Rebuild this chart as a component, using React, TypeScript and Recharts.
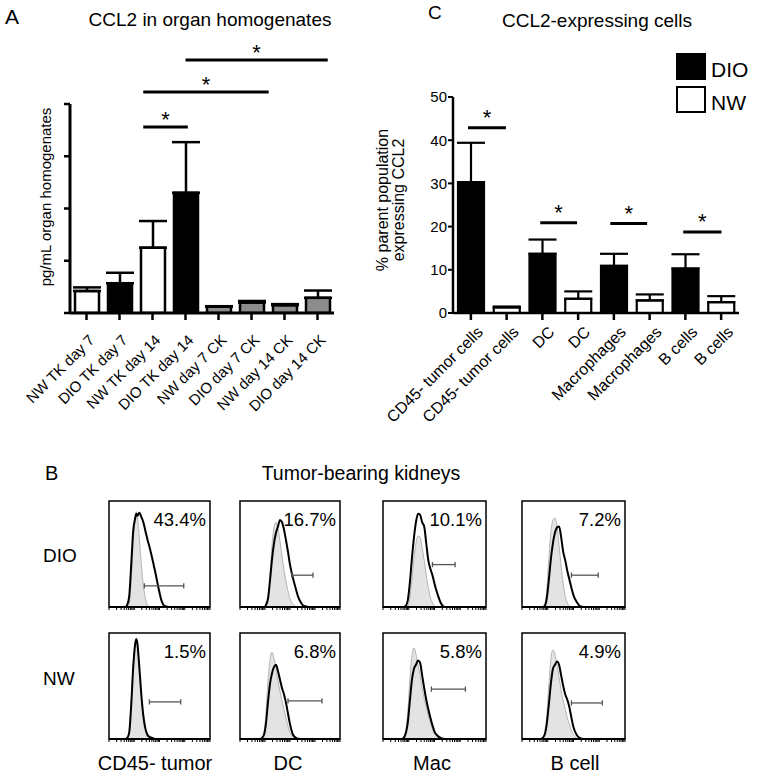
import React from 'react';
import {
  BarChart, Bar, XAxis, YAxis, ErrorBar, Cell, ReferenceLine,
  ComposedChart, Area, ReferenceArea,
} from 'recharts';

const FONT = '"Liberation Sans", Arial, Helvetica, sans-serif';

// ---------- Panel A : CCL2 in organ homogenates ----------
const organLabels = ['NW TK day 7', 'DIO TK day 7', 'NW TK day 14', 'DIO TK day 14', 'NW day 7 CK', 'DIO day 7 CK', 'NW day 14 CK', 'DIO day 14 CK'];
const organMeans = [0.42, 0.57, 1.25, 2.3, 0.12, 0.2, 0.15, 0.29];
const organErrors = [0.07, 0.2, 0.51, 0.97, 0.01, 0.03, 0.02, 0.14];
const organFills = ['#ffffff', '#000000', '#ffffff', '#000000', '#8c8c8c', '#8c8c8c', '#8c8c8c', '#8c8c8c'];
const organTicks = [0, 1, 2, 3, 4];
// significance brackets, in band units (0 = left edge of first category, 8 = right edge of last)
const organSigFrom = [2.22, 2.22, 3.5];
const organSigTo = [3.57, 6.02, 7.81];
const organSigLevel = [3.56, 4.23, 4.84];

// ---------- Panel C : CCL2-expressing cells ----------
const cellLabels = ['CD45- tumor cells', 'CD45- tumor cells', 'DC', 'DC', 'Macrophages', 'Macrophages', 'B cells', 'B cells'];
const cellGroups = ['DIO', 'NW', 'DIO', 'NW', 'DIO', 'NW', 'DIO', 'NW'];
const cellMeans = [30.3, 1.3, 13.7, 3.3, 10.9, 2.9, 10.3, 2.5];
const cellErrors = [9.1, 0.2, 3.3, 1.7, 2.8, 1.4, 3.3, 1.4];
const cellTicks = [0, 10, 20, 30, 40, 50];
const cellSigFrom = [0.42, 2.44, 4.4, 6.44];
const cellSigTo = [1.48, 3.47, 5.43, 7.51];
const cellSigLevel = [42.9, 20.9, 20.7, 18.75];
const groupFill: Record<string, string> = { DIO: '#000000', NW: '#ffffff' };
const legendGroups = ['DIO', 'NW'];

// ---------- Panel B : flow histograms ----------
const histPopulations = ['CD45- tumor', 'DC', 'Mac', 'B cell'];
const histDiets = ['DIO', 'NW'];
const histPercents = [['43.4%', '16.7%', '10.1%', '7.2%'], ['1.5%', '6.8%', '5.8%', '4.9%']];

const gridA = [0, 16, 18, 20, 22, 24, 26, 27, 28, 30, 32, 34, 36, 38, 40, 43, 46, 49, 52, 55, 60, 100];
const gridB = [0, 24, 26, 28, 30, 32, 34, 36, 38, 40, 42, 44, 46, 48, 50, 52, 55, 58, 61, 64, 70, 100];
const gridC = [0, 18, 20, 22, 24, 26, 28, 30, 32, 34, 36, 38, 40, 42, 44, 46, 48, 50, 53, 56, 60, 100];

const isoDioTumor = [0, 0, 0, 3, 25, 60, 85, 90, 86, 65, 40, 20, 8, 2, 0, 0, 0, 0, 0, 0, 0, 0];
const smpDioTumor = [0, 0, 2, 10, 40, 72, 84, 88, 86, 89, 85, 80, 72, 64, 57, 45, 32, 18, 6, 1, 0, 0];
const isoDioDC = [0, 0, 1, 6, 30, 58, 75, 80, 74, 62, 48, 35, 24, 15, 8, 4, 1, 0, 0, 0, 0, 0];
const smpDioDC = [0, 0, 2, 8, 25, 45, 60, 70, 76, 82, 80, 73, 63, 52, 40, 31, 20, 10, 4, 1, 0, 0];
const isoDioMac = [0, 0, 0, 0, 1, 8, 25, 45, 60, 67, 66, 56, 44, 30, 18, 9, 4, 1, 0, 0, 0, 0];
const smpDioMac = [0, 0, 0, 1, 6, 22, 45, 65, 80, 88, 87, 80, 76, 60, 44, 36, 30, 22, 12, 4, 0, 0];
const isoDioB = [0, 0, 0, 2, 15, 45, 70, 82, 84, 76, 58, 38, 22, 10, 4, 1, 0, 0, 0, 0, 0, 0];
const smpDioB = [0, 0, 0, 1, 8, 25, 45, 60, 70, 75, 76, 66, 52, 44, 34, 26, 18, 11, 5, 1, 0, 0];
const isoNwTumor = [0, 0, 1, 8, 35, 70, 92, 95, 90, 65, 38, 18, 8, 3, 1, 0, 0, 0, 0, 0, 0, 0];
const smpNwTumor = [0, 0, 1, 6, 32, 68, 90, 94, 91, 68, 42, 22, 10, 4, 2, 1, 0, 0, 0, 0, 0, 0];
const isoNwDC = [0, 0, 0, 1, 6, 25, 55, 75, 82, 76, 66, 55, 45, 36, 28, 20, 12, 6, 2, 0, 0, 0];
const smpNwDC = [0, 0, 0, 1, 4, 15, 35, 52, 62, 68, 70, 64, 56, 48, 42, 34, 24, 14, 4, 1, 0, 0];
const isoNwMac = [0, 0, 2, 8, 25, 55, 78, 86, 80, 70, 60, 48, 38, 30, 22, 15, 9, 5, 2, 0, 0, 0];
const smpNwMac = [0, 0, 1, 5, 15, 35, 55, 66, 70, 74, 72, 60, 48, 37, 28, 20, 13, 7, 3, 1, 0, 0];
const isoNwB = [0, 0, 1, 6, 22, 50, 75, 84, 80, 70, 58, 46, 36, 28, 20, 14, 8, 4, 1, 0, 0, 0];
const smpNwB = [0, 0, 1, 4, 14, 32, 52, 66, 70, 73, 70, 60, 50, 42, 37, 30, 20, 11, 4, 1, 0, 0];

const histGrids = [[gridA, gridB, gridC, gridC], [gridA, gridC, gridC, gridC]];
const histIso = [[isoDioTumor, isoDioDC, isoDioMac, isoDioB], [isoNwTumor, isoNwDC, isoNwMac, isoNwB]];
const histSmp = [[smpDioTumor, smpDioDC, smpDioMac, smpDioB], [smpNwTumor, smpNwDC, smpNwMac, smpNwB]];
const gateFrom = [[35, 52, 48, 48], [40, 48, 47, 48]];
const gateTo = [[74, 73, 70, 74], [71, 82, 80, 78]];
const gateLevel = [[20, 30, 40, 30], [35, 36, 47, 34]];

// layout of histogram boxes
const boxLeft = [109, 240, 383, 522];
const boxWidth = [101, 100, 103, 103];
const boxTop = [501, 633];
const boxHeight = 106;

const histTicks: number[] = [];
[0, 25, 50, 75].forEach((d) => {
  [1, 2, 3, 4, 5, 6, 7, 8, 9].forEach((k) => histTicks.push(d + 25 * Math.log10(k)));
});
histTicks.push(100);

const organData = organLabels.map((label, i) => ({
  label, mean: organMeans[i], err: [0, organErrors[i]], fill: organFills[i],
}));

const cellData = cellLabels.map((label, i) => ({
  key: String(i), label, group: cellGroups[i], mean: cellMeans[i], err: [0, cellErrors[i]],
}));

// the hidden positional axis spans [0, 7] over the plot width; convert band units (0..8)
const POS_MAX = 7;
const toPos = (band: number) => (band * POS_MAX) / 8;

const makeTick = (labels: string[] | null, fontSize: number, dx: number, dy: number) => (props: any) => {
  const { x, y, payload } = props;
  const text = labels ? labels[Number(payload.value)] : payload.value;
  return (
    <g transform={`translate(${x + dx},${y + dy})`}>
      <text textAnchor="end" transform="rotate(-45)" fontSize={fontSize} fontFamily={FONT} fill="#000">
        {text}
      </text>
    </g>
  );
};

const tickA = makeTick(null, 15, 9, 19);
const tickC = makeTick(cellLabels, 16, 13, 11);

function Histogram(props: { r: number; c: number }) {
  const { r, c } = props;
  const grid = histGrids[r][c];
  const data = grid.map((x, i) => ({ x, iso: histIso[r][c][i], smp: histSmp[r][c][i] }));
  const left = boxLeft[c];
  const top = boxTop[r];
  const w = boxWidth[c];
  const g0 = gateFrom[r][c];
  const g1 = gateTo[r][c];
  const gy = gateLevel[r][c];
  return (
    <div style={{ position: 'absolute', left: left - 1, top: top - 1 }}>
      <ComposedChart width={w + 2} height={boxHeight + 1 + 6} data={data} margin={{ top: 1, left: 1, right: 1, bottom: 0 }}>
        <XAxis
          type="number" dataKey="x" domain={[0, 100]} ticks={histTicks} interval={0}
          tickFormatter={() => ''} tickSize={3} height={6} allowDataOverflow
          axisLine={{ stroke: '#000', strokeWidth: 2 }} tickLine={{ stroke: '#000', strokeWidth: 1 }}
        />
        <YAxis hide domain={[0, 100]} allowDataOverflow />
        <Area type="monotone" dataKey="iso" stroke="#b4b4b4" strokeWidth={1} fill="#e3e3e3" fillOpacity={1} isAnimationActive={false} dot={false} activeDot={false} />
        <Area type="monotone" dataKey="smp" stroke="#000" strokeWidth={2} fill="none" fillOpacity={0} isAnimationActive={false} dot={false} activeDot={false} />
        <ReferenceLine segment={[{ x: g0, y: gy }, { x: g1, y: gy }]} stroke="#555" strokeWidth={1.3} />
        <ReferenceLine segment={[{ x: g0, y: gy - 2.5 }, { x: g0, y: gy + 2.5 }]} stroke="#555" strokeWidth={1.3} />
        <ReferenceLine segment={[{ x: g1, y: gy - 2.5 }, { x: g1, y: gy + 2.5 }]} stroke="#555" strokeWidth={1.3} />
        <ReferenceArea x1={0} x2={100} y1={0} y2={100} fill="none" fillOpacity={0} stroke="#000" strokeWidth={1.5} ifOverflow="visible" />
      </ComposedChart>
    </div>
  );
}

export default function App() {
  return (
    <div style={{ position: 'absolute', left: 0, top: 0, width: 759, height: 775, background: '#fff', fontFamily: FONT, overflow: 'hidden' }}>
      {/* Panel A */}
      <div style={{ position: 'absolute', left: 0, top: 0 }}>
        <BarChart width={370} height={470} data={organData} margin={{ top: 104, right: 36, bottom: 40, left: 0 }}>
          <XAxis
            dataKey="label" type="category" interval={0} tick={tickA} tickSize={7} height={117}
            axisLine={{ stroke: '#000', strokeWidth: 3 }} tickLine={{ stroke: '#000', strokeWidth: 2.5 }}
          />
          <XAxis xAxisId="n" type="number" domain={[0, POS_MAX]} hide allowDataOverflow />
          <YAxis
            domain={[0, 4]} ticks={organTicks} width={70} tickSize={6} tickFormatter={() => ''} allowDataOverflow
            axisLine={{ stroke: '#000', strokeWidth: 3 }} tickLine={{ stroke: '#000', strokeWidth: 2.5 }}
          />
          <Bar dataKey="mean" barSize={24} stroke="#000" strokeWidth={2.5} isAnimationActive={false}>
            {organData.map((d, i) => <Cell key={i} fill={d.fill} />)}
            <ErrorBar dataKey="err" width={14} stroke="#000" strokeWidth={2.5} direction="y" />
          </Bar>
          {organSigFrom.map((f, i) => (
            <ReferenceLine
              key={i} xAxisId="n" ifOverflow="visible" stroke="#000" strokeWidth={3}
              segment={[{ x: toPos(f), y: organSigLevel[i] }, { x: toPos(organSigTo[i]), y: organSigLevel[i] }]}
              label={{ value: '*', position: 'top', offset: 0, fontSize: 22, fill: '#000', fontFamily: FONT }}
            />
          ))}
        </BarChart>
      </div>

      {/* Panel C */}
      <div style={{ position: 'absolute', left: 360, top: 0 }}>
        <BarChart width={399} height={470} data={cellData} margin={{ top: 97, right: 20, bottom: 40, left: 40 }}>
          <XAxis
            dataKey="key" type="category" interval={0} tick={tickC} tickSize={7} height={117}
            axisLine={{ stroke: '#000', strokeWidth: 2.5 }} tickLine={{ stroke: '#000', strokeWidth: 2.5 }}
          />
          <XAxis xAxisId="n" type="number" domain={[0, POS_MAX]} hide allowDataOverflow />
          <YAxis
            domain={[0, 50]} ticks={cellTicks} width={53} tickSize={5} tickMargin={1} allowDataOverflow
            tick={{ fontSize: 15, fill: '#000', fontFamily: FONT }}
            axisLine={{ stroke: '#000', strokeWidth: 2.5 }} tickLine={{ stroke: '#000', strokeWidth: 2 }}
          />
          <Bar dataKey="mean" barSize={26} stroke="#000" strokeWidth={2.2} isAnimationActive={false}>
            {cellData.map((d, i) => <Cell key={i} fill={groupFill[d.group]} />)}
            <ErrorBar dataKey="err" width={14} stroke="#000" strokeWidth={2.2} direction="y" />
          </Bar>
          {cellSigFrom.map((f, i) => (
            <ReferenceLine
              key={i} xAxisId="n" ifOverflow="visible" stroke="#000" strokeWidth={3}
              segment={[{ x: toPos(f), y: cellSigLevel[i] }, { x: toPos(cellSigTo[i]), y: cellSigLevel[i] }]}
              label={{ value: '*', position: 'top', offset: 3, fontSize: 22, fill: '#000', fontFamily: FONT }}
            />
          ))}
        </BarChart>
      </div>

      {/* Panel B histograms */}
      {histDiets.map((_, r) => histPopulations.map((__, c) => <Histogram key={`${r}-${c}`} r={r} c={c} />))}

      {/* Text overlay */}
      <svg width={759} height={775} style={{ position: 'absolute', left: 0, top: 0, pointerEvents: 'none' }} fontFamily={FONT}>
        <text x={5} y={24} fontSize={21} fill="#000">A</text>
        <text x={210} y={26} fontSize={19} textAnchor="middle" fill="#000">CCL2 in organ homogenates</text>
        <text transform="translate(51,197) rotate(-90)" fontSize={15} textAnchor="middle" fill="#000">pg/mL organ homogenates</text>

        <text x={428} y={19} fontSize={19} fill="#000">C</text>
        <text x={597} y={27} fontSize={19} textAnchor="middle" fill="#000">CCL2-expressing cells</text>
        <text transform="translate(388,200) rotate(-90)" fontSize={16} textAnchor="middle" fill="#000">% parent population</text>
        <text transform="translate(404,200) rotate(-90)" fontSize={16} textAnchor="middle" fill="#000">expressing CCL2</text>

        {legendGroups.map((g, i) => (
          <g key={g}>
            <rect x={677} y={54 + i * 33} width={28} height={25} fill={groupFill[g]} stroke="#000" strokeWidth={2} />
            <text x={711} y={77 + i * 33} fontSize={21} fill="#000">{g}</text>
          </g>
        ))}

        <text x={45} y={480} fontSize={20} fill="#000">B</text>
        <text x={361} y={480} fontSize={19.5} textAnchor="middle" fill="#000">Tumor-bearing kidneys</text>
        {histDiets.map((d, r) => (
          <text key={d} x={43} y={[562, 685][r]} fontSize={19} fill="#000">{d}</text>
        ))}
        {histDiets.map((_, r) => histPopulations.map((__, c) => (
          <text key={`${r}-${c}`} x={boxLeft[c] + boxWidth[c] - 4} y={boxTop[r] + 25} fontSize={18.5} textAnchor="end" fill="#000">
            {histPercents[r][c]}
          </text>
        )))}
        {histPopulations.map((p, c) => (
          <text key={p} x={[155, 288, 432, 575][c]} y={770} fontSize={20} textAnchor="middle" fill="#000">{p}</text>
        ))}
      </svg>
    </div>
  );
}
